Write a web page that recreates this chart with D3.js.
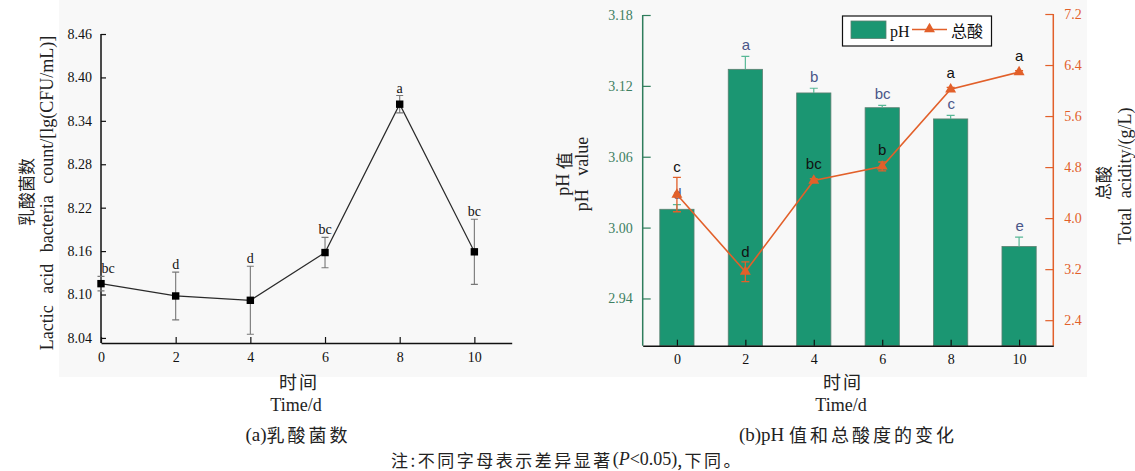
<!DOCTYPE html>
<html>
<head>
<meta charset="utf-8">
<script src="https://cdn.jsdelivr.net/npm/d3@7"></script>
<style>
  html, body { margin: 0; padding: 0; background: #ffffff; }
  svg { display: block; }
</style>
</head>
<body>
<svg id="chart" width="1135" height="471"></svg>
<script>
// Fermentation days
const days = [0, 2, 4, 6, 8, 10];

// (a) lactic acid bacteria count, lg(CFU/mL)
const labCount = [8.115, 8.098, 8.092, 8.158, 8.363, 8.159];
const labErr = [0.010, 0.033, 0.047, 0.021, 0.012, 0.045];
const labSig = ["bc", "d", "d", "bc", "a", "bc"];
const labTicks = [8.04, 8.10, 8.16, 8.22, 8.28, 8.34, 8.40, 8.46];

// (b) pH value and total acidity (g/L)
const phValue = [3.0155, 3.134, 3.114, 3.1015, 3.092, 2.984];
const phErr = [0.004, 0.011, 0.004, 0.002, 0.003, 0.008];
const phSig = ["d", "a", "b", "bc", "c", "e"];
const acidValue = [4.37, 3.16, 4.59, 4.81, 6.02, 6.29];
const acidErr = [0.27, 0.155, 0.03, 0.07, 0.03, 0.02];
const acidSig = ["c", "d", "bc", "b", "a", "a"];
const phTicks = [2.94, 3.00, 3.06, 3.12, 3.18];
const acidTicks = [2.4, 3.2, 4.0, 4.8, 5.6, 6.4, 7.2];

const SERIF = "'Liberation Serif', 'Times New Roman', serif";
const SANS = "'Liberation Sans', Arial, sans-serif";
const CJK = "'Noto Sans CJK SC', sans-serif";
const GREEN = "#1b9672";
const GREEN_AXIS = "#2f7d5c";
const ORANGE = "#e2602a";

const svg = d3.select("#chart");

// light panel behind both plots
svg.append("rect").attr("x", 59).attr("y", 0).attr("width", 1028).attr("height", 377)
  .attr("fill", "#f8f8f8");

// caption helper: serif run followed by a spaced CJK run
function caption(parent, x, y, latin, cjk) {
  const t = parent.append("text").attr("x", x).attr("y", y)
    .attr("text-anchor", "middle").attr("dominant-baseline", "central").attr("fill", "#222");
  t.append("tspan").attr("font-family", SERIF).attr("font-size", 19).text(latin);
  t.append("tspan").attr("font-family", CJK).attr("font-size", 18).attr("letter-spacing", 3).text(cjk);
  return t;
}

/* ---------------- (a) lactic acid bacteria ---------------- */
const xa = d3.scaleLinear().domain([0, 11]).range([101, 511.7]);
const ya = d3.scaleLinear().domain([8.033, 8.46]).range([343, 34]);

const ga = svg.append("g");

// left axis, ticks pointing inward
const axA = ga.append("g").attr("transform", `translate(${xa(0)},0)`)
  .call(d3.axisLeft(ya).tickValues(labTicks).tickFormat(d3.format(".2f"))
    .tickSizeInner(-5).tickSizeOuter(0).tickPadding(9));
axA.select(".domain").attr("stroke", "#111").attr("stroke-width", 1.5)
  .attr("d", `M0,${ya(8.46)}V${ya.range()[0]}`);
axA.selectAll(".tick line").attr("stroke", "#111").attr("stroke-width", 1.2);
axA.selectAll(".tick text").attr("font-family", SERIF).attr("font-size", 14).attr("fill", "#111");

const axAx = ga.append("g").attr("transform", `translate(0,${ya.range()[0]})`)
  .call(d3.axisBottom(xa).tickValues(days).tickSizeInner(-6).tickSizeOuter(0).tickPadding(9));
axAx.select(".domain").attr("stroke", "#111").attr("stroke-width", 1.5);
axAx.selectAll(".tick line").attr("stroke", "#111").attr("stroke-width", 1.2);
axAx.selectAll(".tick text").attr("font-family", SERIF).attr("font-size", 14).attr("fill", "#111");

// error bars
const errA = ga.append("g").attr("stroke", "#777").attr("stroke-width", 1.1).attr("fill", "none");
days.forEach((d, i) => {
  const x = xa(d), y1 = ya(labCount[i] + labErr[i]), y2 = ya(labCount[i] - labErr[i]);
  errA.append("path").attr("d", `M${x},${y1}V${y2}M${x - 3.5},${y1}H${x + 3.5}M${x - 3.5},${y2}H${x + 3.5}`);
});

// connecting line
ga.append("path").datum(days)
  .attr("fill", "none").attr("stroke", "#2a2a2a").attr("stroke-width", 1.2)
  .attr("d", d3.line().x(d => xa(d)).y((d, i) => ya(labCount[i])));

// square markers
ga.selectAll("rect.mk").data(days).join("rect").attr("class", "mk")
  .attr("x", d => xa(d) - 3.7).attr("y", (d, i) => ya(labCount[i]) - 3.7)
  .attr("width", 7.4).attr("height", 7.4).attr("fill", "#000");

// significance letters
ga.selectAll("text.sig").data(days).join("text").attr("class", "sig")
  .attr("x", (d, i) => xa(d) + (i === 0 ? 7 : 0))
  .attr("y", (d, i) => ya(labCount[i] + labErr[i]) - 3)
  .attr("text-anchor", "middle")
  .attr("font-family", SERIF).attr("font-size", 14).attr("fill", "#111")
  .text((d, i) => labSig[i]);

// axis titles
ga.append("text").attr("transform", "translate(25,192) rotate(-90)")
  .attr("text-anchor", "middle").attr("dominant-baseline", "central")
  .attr("font-family", CJK).attr("font-size", 17).attr("fill", "#222").text("乳酸菌数");
ga.append("text").attr("transform", "translate(47,193) rotate(-90)")
  .attr("text-anchor", "middle").attr("dominant-baseline", "central")
  .attr("font-family", SERIF).attr("font-size", 18).attr("fill", "#222")
  .attr("word-spacing", 7)
  .text("Lactic acid bacteria count/[lg(CFU/mL)]");

ga.append("text").attr("x", 299).attr("y", 381).attr("text-anchor", "middle").attr("dominant-baseline", "central")
  .attr("font-family", CJK).attr("font-size", 18).attr("letter-spacing", 2).attr("fill", "#222").text("时间");
ga.append("text").attr("x", 296).attr("y", 405).attr("text-anchor", "middle").attr("dominant-baseline", "central")
  .attr("font-family", SERIF).attr("font-size", 18).attr("fill", "#222").text("Time/d");
caption(ga, 298, 434, "(a)", "乳酸菌数");

/* ---------------- (b) pH and total acidity ---------------- */
const xb = d3.scaleLinear().domain([-1, 11]).range([642.7, 1053.3]);
const yph = d3.scaleLinear().domain([2.90, 3.18]).range([345.7, 15]);
const yac = d3.scaleLinear().domain([2.0, 7.2]).range([345.7, 14]);
const barW = xb(0.5) - xb(-0.5);

const gb = svg.append("g");

// bars
gb.selectAll("rect.bar").data(days).join("rect").attr("class", "bar")
  .attr("x", d => xb(d) - barW / 2).attr("y", (d, i) => yph(phValue[i]))
  .attr("width", barW).attr("height", (d, i) => yph.range()[0] - yph(phValue[i]))
  .attr("fill", GREEN).attr("stroke", "#5a7f70").attr("stroke-width", 0.8);

// pH error bars (upper side)
const errP = gb.append("g").attr("stroke", "#58b896").attr("stroke-width", 1.2).attr("fill", "none");
days.forEach((d, i) => {
  const x = xb(d), y0 = yph(phValue[i]), y1 = yph(phValue[i] + phErr[i]);
  errP.append("path").attr("d", `M${x},${y0}V${y1}M${x - 4},${y1}H${x + 4}`);
});

// pH letters
gb.selectAll("text.phs").data(days).join("text").attr("class", "phs")
  .attr("x", d => xb(d) + 0.5).attr("y", (d, i) => yph(phValue[i] + phErr[i]) - 6)
  .attr("text-anchor", "middle")
  .attr("font-family", SANS).attr("font-size", 15).attr("fill", "#4a5688")
  .text((d, i) => phSig[i]);

// total acidity error bars
const errC = gb.append("g").attr("stroke", ORANGE).attr("stroke-width", 1.3).attr("fill", "none");
days.forEach((d, i) => {
  const x = xb(d), y1 = yac(acidValue[i] + acidErr[i]), y2 = yac(acidValue[i] - acidErr[i]);
  errC.append("path").attr("d", `M${x},${y1}V${y2}M${x - 4},${y1}H${x + 4}M${x - 4},${y2}H${x + 4}`);
});

// total acidity line
gb.append("path").datum(days)
  .attr("fill", "none").attr("stroke", ORANGE).attr("stroke-width", 1.6)
  .attr("d", d3.line().x(d => xb(d)).y((d, i) => yac(acidValue[i])));

// triangle markers
const tri = d3.symbol().type(d3.symbolTriangle).size(52);
gb.selectAll("path.tri").data(days).join("path").attr("class", "tri")
  .attr("transform", (d, i) => `translate(${xb(d)},${yac(acidValue[i])})`)
  .attr("d", tri).attr("fill", ORANGE);

// total acidity letters
gb.selectAll("text.acs").data(days).join("text").attr("class", "acs")
  .attr("x", d => xb(d)).attr("y", (d, i) => Math.min(yac(acidValue[i] + acidErr[i]), yac(acidValue[i]) - 6) - 5)
  .attr("text-anchor", "middle")
  .attr("font-family", SANS).attr("font-size", 15).attr("fill", "#111")
  .text((d, i) => acidSig[i]);

// left pH axis
const axP = gb.append("g").attr("transform", `translate(${xb(-1)},0)`)
  .call(d3.axisLeft(yph).tickValues(phTicks).tickFormat(d3.format(".2f"))
    .tickSizeInner(-8).tickSizeOuter(0).tickPadding(10));
axP.select(".domain").attr("stroke", GREEN_AXIS).attr("stroke-width", 1.5)
  .attr("d", `M0,${yph(3.18)}V${yph.range()[0]}`);
axP.selectAll(".tick line").attr("stroke", GREEN_AXIS).attr("stroke-width", 1.2);
axP.selectAll(".tick text").attr("font-family", SERIF).attr("font-size", 14).attr("fill", "#3d7f62");

// right acidity axis
const axC = gb.append("g").attr("transform", `translate(${xb(11)},0)`)
  .call(d3.axisRight(yac).tickValues(acidTicks).tickFormat(d3.format(".1f"))
    .tickSizeInner(-8).tickSizeOuter(0).tickPadding(11));
axC.select(".domain").attr("stroke", ORANGE).attr("stroke-width", 1.5)
  .attr("d", `M0,${yac(7.2)}V${yac.range()[0]}`);
axC.selectAll(".tick line").attr("stroke", ORANGE).attr("stroke-width", 1.2);
axC.selectAll(".tick text").attr("font-family", SERIF).attr("font-size", 14).attr("fill", ORANGE);

// bottom axis
const axB = gb.append("g").attr("transform", `translate(0,${yph.range()[0]})`)
  .call(d3.axisBottom(xb).tickValues(days).tickSizeInner(-6).tickSizeOuter(0).tickPadding(8));
axB.select(".domain").attr("stroke", "#111").attr("stroke-width", 1.5);
axB.selectAll(".tick line").attr("stroke", "#111").attr("stroke-width", 1.2);
axB.selectAll(".tick text").attr("font-family", SERIF).attr("font-size", 14).attr("fill", "#111");

// legend
const lg = gb.append("g");
lg.append("rect").attr("x", 842.5).attr("y", 16).attr("width", 149).attr("height", 30)
  .attr("fill", "#fff").attr("stroke", "#111").attr("stroke-width", 1.2);
lg.append("rect").attr("x", 851).attr("y", 21).attr("width", 35).attr("height", 17.5)
  .attr("fill", GREEN).attr("stroke", "#5a7f70").attr("stroke-width", 0.8);
lg.append("text").attr("x", 890).attr("y", 31).attr("dominant-baseline", "central")
  .attr("font-family", SERIF).attr("font-size", 16).attr("fill", "#111").text("pH");
lg.append("line").attr("x1", 912).attr("x2", 947).attr("y1", 29.5).attr("y2", 29.5)
  .attr("stroke", ORANGE).attr("stroke-width", 1.6);
lg.append("path").attr("transform", "translate(929.5,29)").attr("d", tri).attr("fill", ORANGE);
lg.append("text").attr("x", 951).attr("y", 30).attr("dominant-baseline", "central")
  .attr("font-family", CJK).attr("font-size", 16).attr("fill", "#111").text("总酸");

// axis titles
gb.append("text").attr("transform", "translate(563,174) rotate(-90)")
  .attr("text-anchor", "middle").attr("dominant-baseline", "central")
  .attr("font-family", SERIF).attr("font-size", 18).attr("fill", "#222")
  .html("pH <tspan font-family=\"'Noto Sans CJK SC', sans-serif\" font-size=\"17\">值</tspan>");
gb.append("text").attr("transform", "translate(582,174) rotate(-90)")
  .attr("text-anchor", "middle").attr("dominant-baseline", "central")
  .attr("font-family", SERIF).attr("font-size", 18).attr("fill", "#222").attr("word-spacing", 9)
  .text("pH value");
gb.append("text").attr("transform", "translate(1102,183) rotate(-90)")
  .attr("text-anchor", "middle").attr("dominant-baseline", "central")
  .attr("font-family", CJK).attr("font-size", 17).attr("fill", "#222").text("总酸");
gb.append("text").attr("transform", "translate(1125,176) rotate(-90)")
  .attr("text-anchor", "middle").attr("dominant-baseline", "central")
  .attr("font-family", SERIF).attr("font-size", 18).attr("fill", "#222").attr("word-spacing", 5)
  .text("Total acidity/(g/L)");

gb.append("text").attr("x", 843).attr("y", 381).attr("text-anchor", "middle").attr("dominant-baseline", "central")
  .attr("font-family", CJK).attr("font-size", 18).attr("letter-spacing", 2).attr("fill", "#222").text("时间");
gb.append("text").attr("x", 841).attr("y", 405).attr("text-anchor", "middle").attr("dominant-baseline", "central")
  .attr("font-family", SERIF).attr("font-size", 18).attr("fill", "#222").text("Time/d");
caption(gb, 848, 434, "(b)pH ", "值和总酸度的变化");

// footnote
const note = svg.append("text").attr("x", 567).attr("y", 459).attr("text-anchor", "middle")
  .attr("dominant-baseline", "central").attr("fill", "#222");
note.append("tspan").attr("font-family", CJK).attr("font-size", 17).attr("letter-spacing", 2.5)
  .text("注:不同字母表示差异显著");
note.append("tspan").attr("font-family", SERIF).attr("font-size", 18).text("(");
note.append("tspan").attr("font-family", SERIF).attr("font-size", 18).attr("font-style", "italic").text("P");
note.append("tspan").attr("font-family", SERIF).attr("font-size", 18).text("<0.05)");
note.append("tspan").attr("font-family", CJK).attr("font-size", 17).attr("letter-spacing", 2.5)
  .text(",下同。");
</script>
</body>
</html>
